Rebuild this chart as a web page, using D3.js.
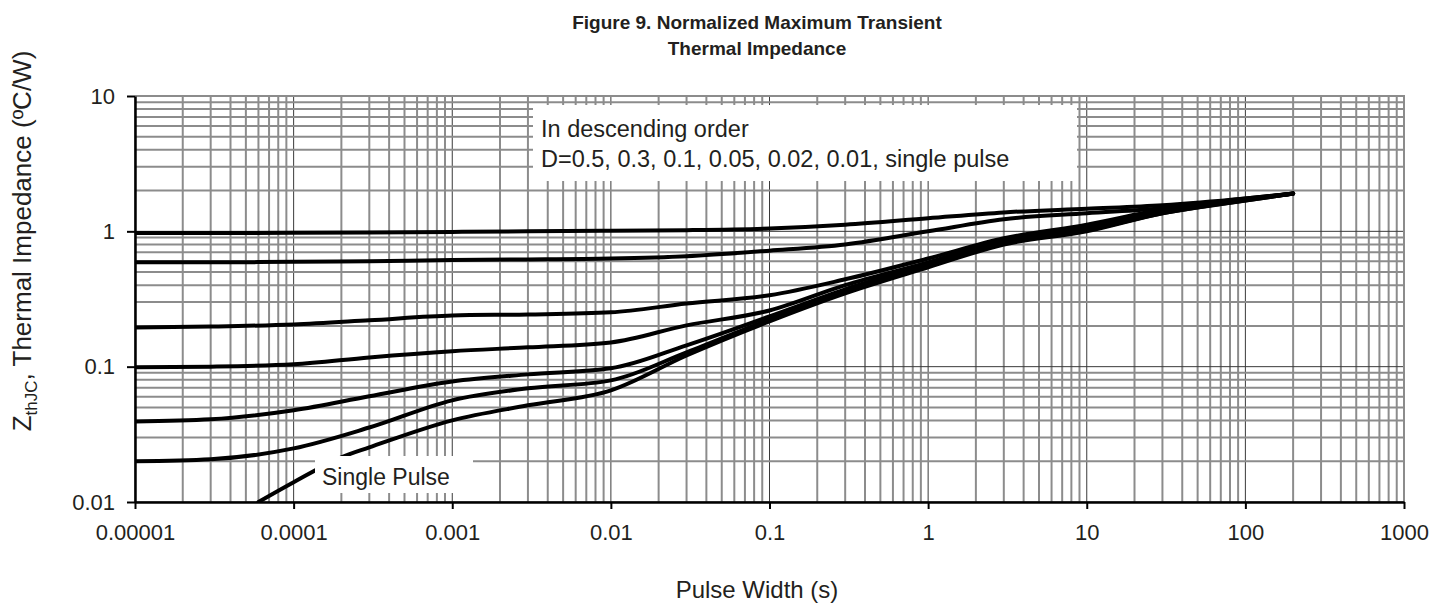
<!DOCTYPE html>
<html>
<head>
<meta charset="utf-8">
<script src="https://cdn.jsdelivr.net/npm/d3@7"></script>
<style>
  body { margin: 0; background: #fff; }
  text { font-family: "Liberation Sans", Arial, sans-serif; fill: #231f20; }
</style>
</head>
<body>
<script>
var pulseWidth = [0.00001, 0.00003, 0.0001, 0.0003, 0.001, 0.003, 0.01, 0.03, 0.1, 0.3, 1, 3, 10, 30, 100, 200];

var d050 = [0.97, 0.97, 0.975, 0.98, 0.99, 1.0, 1.01, 1.02, 1.05, 1.12, 1.25, 1.38, 1.47, 1.56, 1.75, 1.9];
var d030 = [0.59, 0.59, 0.595, 0.6, 0.615, 0.62, 0.63, 0.655, 0.72, 0.8, 1.0, 1.23, 1.36, 1.48, 1.75, 1.9];
var d010 = [0.195, 0.198, 0.205, 0.22, 0.239, 0.243, 0.252, 0.293, 0.337, 0.442, 0.63, 0.888, 1.12, 1.45, 1.72, 1.9];
var d005 = [0.099, 0.1, 0.104, 0.117, 0.13, 0.139, 0.151, 0.202, 0.26, 0.4, 0.59, 0.858, 1.07, 1.4, 1.72, 1.9];
var d002 = [0.0394, 0.0408, 0.0476, 0.0604, 0.0777, 0.0877, 0.0972, 0.1437, 0.235, 0.373, 0.57, 0.83, 1.035, 1.38, 1.72, 1.9];
var d001 = [0.02, 0.0207, 0.0249, 0.0355, 0.0564, 0.0692, 0.0792, 0.1276, 0.2235, 0.36, 0.551, 0.815, 1.017, 1.36, 1.69, 1.9];

var singleWidth = [0.00006, 0.0001, 0.0002, 0.0003, 0.001, 0.003, 0.01, 0.03, 0.1, 0.3, 1, 3, 10, 30, 100, 200];
var singlePulse = [0.01, 0.014, 0.0214, 0.0253, 0.0401, 0.0518, 0.0668, 0.121, 0.216, 0.348, 0.542, 0.8, 1.0, 1.36, 1.69, 1.9];

var xTicks = [0.00001, 0.0001, 0.001, 0.01, 0.1, 1, 10, 100, 1000];
var xTickLabels = ["0.00001", "0.0001", "0.001", "0.01", "0.1", "1", "10", "100", "1000"];
var yTicks = [0.01, 0.1, 1, 10];
var yTickLabels = ["0.01", "0.1", "1", "10"];

var width = 1447,
  height = 604;

var plotLeft = 135, plotRight = 1404, plotTop = 96, plotBottom = 502;

var x = d3.scaleLog().domain([0.00001, 1000]).range([plotLeft, plotRight]);
var y = d3.scaleLog().domain([0.01, 10]).range([plotBottom, plotTop]);

var svg = d3
  .select("body")
  .append("svg")
  .attr("width", width)
  .attr("height", height);

function isDecade(v) {
  var l = Math.log10(v);
  return Math.abs(l - Math.round(l)) < 1e-6;
}

// grid: gray minor lines, thin dark decade lines
var grid = svg.append("g");

grid.selectAll("line.vx")
  .data(x.ticks())
  .enter()
  .append("line")
  .attr("x1", function (d) { return x(d); })
  .attr("x2", function (d) { return x(d); })
  .attr("y1", plotTop)
  .attr("y2", plotBottom)
  .style("stroke", function (d) { return isDecade(d) ? "#3a3a3a" : "#8c8c8c"; })
  .style("stroke-width", function (d) { return isDecade(d) ? 1 : 2; });

grid.selectAll("line.hy")
  .data(y.ticks())
  .enter()
  .append("line")
  .attr("x1", plotLeft)
  .attr("x2", plotRight)
  .attr("y1", function (d) { return y(d); })
  .attr("y2", function (d) { return y(d); })
  .style("stroke", function (d) { return isDecade(d) ? "#3a3a3a" : "#8c8c8c"; })
  .style("stroke-width", function (d) { return isDecade(d) ? 1 : 2; });

// top and right frame
svg.append("path")
  .attr("d", "M" + plotLeft + "," + plotTop + "H" + plotRight + "V" + plotBottom)
  .style("fill", "none")
  .style("stroke", "#8c8c8c")
  .style("stroke-width", 2);

// curves
svg.append("clipPath")
  .attr("id", "plotclip")
  .append("rect")
  .attr("x", plotLeft)
  .attr("y", plotTop)
  .attr("width", plotRight - plotLeft)
  .attr("height", plotBottom - plotTop);

var series = [
  { key: "0.5", xs: pulseWidth, ys: d050 },
  { key: "0.3", xs: pulseWidth, ys: d030 },
  { key: "0.1", xs: pulseWidth, ys: d010 },
  { key: "0.05", xs: pulseWidth, ys: d005 },
  { key: "0.02", xs: pulseWidth, ys: d002 },
  { key: "0.01", xs: pulseWidth, ys: d001 },
  { key: "single", xs: singleWidth, ys: singlePulse }
];

var line = d3.line()
  .x(function (d) { return x(d[0]); })
  .y(function (d) { return y(d[1]); })
  .curve(d3.curveMonotoneX);

svg.append("g")
  .attr("clip-path", "url(#plotclip)")
  .selectAll("path")
  .data(series)
  .enter()
  .append("path")
  .attr("d", function (d) {
    return line(d.xs.map(function (v, i) { return [v, d.ys[i]]; }));
  })
  .style("fill", "none")
  .style("stroke", "#000")
  .style("stroke-width", 4)
  .style("stroke-linecap", "round");

// axes
var xAxis = svg.append("g")
  .attr("transform", "translate(0," + plotBottom + ")")
  .call(d3.axisBottom(x)
    .tickValues(xTicks)
    .tickFormat(function (d, i) { return xTickLabels[i]; })
    .tickSize(7)
    .tickSizeOuter(0)
    .tickPadding(15));

var yAxis = svg.append("g")
  .attr("transform", "translate(" + plotLeft + ",0)")
  .call(d3.axisLeft(y)
    .tickValues(yTicks)
    .tickFormat(function (d, i) { return yTickLabels[i]; })
    .tickSize(8)
    .tickSizeOuter(0)
    .tickPadding(12));

[xAxis, yAxis].forEach(function (a) {
  a.select(".domain").style("stroke", "#000").style("stroke-width", 2.5);
  a.selectAll(".tick line").style("stroke", "#000").style("stroke-width", 2);
  a.selectAll(".tick text")
    .style("font-size", "22px")
    .style("font-family", "'Liberation Sans', Arial, sans-serif")
    .style("fill", "#231f20");
});

// legend box
svg.append("rect")
  .attr("x", 533).attr("y", 105)
  .attr("width", 544).attr("height", 76)
  .style("fill", "#fff");

svg.append("text")
  .attr("x", 541).attr("y", 137)
  .style("font-size", "23.5px")
  .text("In descending order");

svg.append("text")
  .attr("x", 541).attr("y", 167)
  .style("font-size", "23.5px")
  .text("D=0.5, 0.3, 0.1, 0.05, 0.02, 0.01, single pulse");

// single pulse label
svg.append("rect")
  .attr("x", 315).attr("y", 456)
  .attr("width", 158).attr("height", 37)
  .style("fill", "#fff");

svg.append("text")
  .attr("x", 322).attr("y", 485)
  .style("font-size", "23px")
  .text("Single Pulse");

// titles
svg.append("text")
  .attr("x", 757).attr("y", 29)
  .style("text-anchor", "middle")
  .style("font-size", "19px")
  .style("font-weight", "bold")
  .text("Figure 9. Normalized Maximum Transient");

svg.append("text")
  .attr("x", 757).attr("y", 55)
  .style("text-anchor", "middle")
  .style("font-size", "19px")
  .style("font-weight", "bold")
  .text("Thermal Impedance");

svg.append("text")
  .attr("x", 757).attr("y", 598)
  .style("text-anchor", "middle")
  .style("font-size", "24px")
  .text("Pulse Width (s)");

var yTitle = svg.append("text")
  .attr("transform", "translate(31,241) rotate(-90)")
  .style("text-anchor", "middle")
  .style("font-size", "26px");

yTitle.append("tspan").text("Z");
yTitle.append("tspan").attr("dy", 6).style("font-size", "17px").text("thJC");
yTitle.append("tspan").attr("dy", -6).text(",  Thermal Impedance (ºC/W)");
</script>
</body>
</html>
